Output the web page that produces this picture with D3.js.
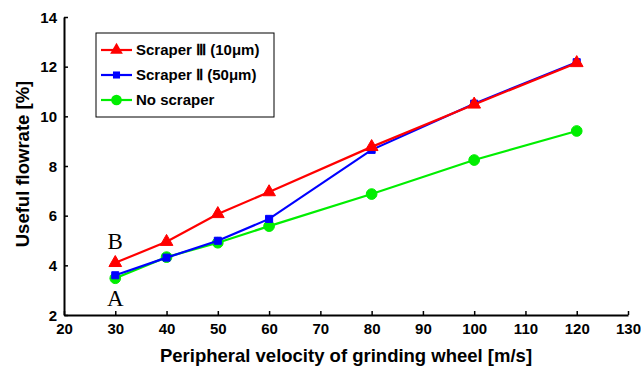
<!DOCTYPE html>
<html>
<head>
<meta charset="utf-8">
<script src="https://cdn.jsdelivr.net/npm/d3@7"></script>
<style>
  body { margin: 0; background: #fff; }
  text { font-family: "Liberation Sans", Arial, sans-serif; font-weight: bold; }
</style>
</head>
<body>
<div id="chart"></div>
<script>
// data
var speeds = [30, 40, 50, 60, 80, 100, 120];
var scraper3 = [4.1, 4.95, 6.07, 6.95, 8.77, 10.48, 12.15];
var scraper2 = [3.6, 4.31, 4.99, 5.87, 8.65, 10.51, 12.18];
var noScraper = [3.48, 4.33, 4.91, 5.58, 6.87, 8.24, 9.41];
var xTicks = [20, 30, 40, 50, 60, 70, 80, 90, 100, 110, 120, 130];
var yTicks = [2, 4, 6, 8, 10, 12, 14];

var series = [
  {name: "Scraper \u2162 (10\u03bcm)", values: scraper3, color: "#ff0000", marker: "triangle"},
  {name: "Scraper \u2161 (50\u03bcm)", values: scraper2, color: "#0000ff", marker: "square"},
  {name: "No scraper", values: noScraper, color: "#00ee00", marker: "circle"}
];

var width = 641, height = 368;
var margin = {top: 17, right: 13, bottom: 53, left: 64};

var svg = d3.select("#chart").append("svg")
    .attr("width", width)
    .attr("height", height);

var x = d3.scaleLinear()
    .domain([20, 130])
    .range([margin.left, width - margin.right]);

var y = d3.scaleLinear()
    .domain([2, 14])
    .range([height - margin.bottom, margin.top]);

var xAxis = d3.axisBottom(x)
    .tickValues(xTicks)
    .tickSizeInner(-4)
    .tickSizeOuter(0)
    .tickPadding(8);

var yAxis = d3.axisLeft(y)
    .tickValues(yTicks)
    .tickSizeInner(-4)
    .tickSizeOuter(0)
    .tickPadding(7);

var gx = svg.append("g")
    .attr("transform", "translate(0," + y(2) + ")")
    .call(xAxis);
var gy = svg.append("g")
    .attr("transform", "translate(" + x(20) + ",0)")
    .call(yAxis);

[gx, gy].forEach(function(g) {
  g.select(".domain").attr("stroke", "#000").attr("stroke-width", 2);
  g.selectAll(".tick line").attr("stroke", "#000").attr("stroke-width", 1.5);
  g.selectAll(".tick text")
      .attr("fill", "#000")
      .style("font-size", "15px")
      .style("font-family", "'Liberation Sans', Arial, sans-serif")
      .style("font-weight", "bold");
});
gy.selectAll(".tick text").attr("dy", "0.35em");

// axis titles
svg.append("text")
    .attr("x", x(75))
    .attr("y", 362)
    .attr("text-anchor", "middle")
    .style("font-size", "18.5px")
    .text("Peripheral velocity of grinding wheel [m/s]");

svg.append("text")
    .attr("transform", "translate(29," + 164 + ") rotate(-90)")
    .attr("text-anchor", "middle")
    .style("font-size", "18.5px")
    .text("Useful flowrate [%]");

var line = d3.line()
    .x(function(d, i) { return x(speeds[i]); })
    .y(function(d) { return y(d); });

var symbolTypes = {
  triangle: d3.symbol().type(d3.symbolTriangle).size(70),
  square: d3.symbol().type(d3.symbolSquare).size(50),
  circle: d3.symbol().type(d3.symbolCircle).size(90)
};

// draw from back to front like the figure: green, blue, red
var order = [series[2], series[1], series[0]];
order.forEach(function(s) {
  svg.append("path")
      .datum(s.values)
      .attr("fill", "none")
      .attr("stroke", s.color)
      .attr("stroke-width", 2.2)
      .attr("d", line);
  svg.selectAll(null)
      .data(s.values)
      .enter().append("path")
      .attr("d", symbolTypes[s.marker])
      .attr("transform", function(d, i) {
        return "translate(" + x(speeds[i]) + "," + y(d) + ")";
      })
      .attr("fill", s.color)
      .attr("stroke", s.color);
});

// A / B annotations
svg.append("text")
    .attr("x", x(30))
    .attr("y", 249)
    .attr("text-anchor", "middle")
    .style("font-family", "'Liberation Serif', 'Times New Roman', serif")
    .style("font-weight", "normal")
    .style("font-size", "23px")
    .text("B");
svg.append("text")
    .attr("x", x(30))
    .attr("y", 306)
    .attr("text-anchor", "middle")
    .style("font-family", "'Liberation Serif', 'Times New Roman', serif")
    .style("font-weight", "normal")
    .style("font-size", "23px")
    .text("A");

// legend
var legend = svg.append("g").attr("transform", "translate(96,33)");
legend.append("rect")
    .attr("width", 178)
    .attr("height", 84)
    .attr("fill", "#fff")
    .attr("stroke", "#000")
    .attr("stroke-width", 1);

series.forEach(function(s, i) {
  var row = legend.append("g").attr("transform", "translate(0," + (17 + i * 25) + ")");
  row.append("line")
      .attr("x1", 5).attr("x2", 36)
      .attr("stroke", s.color)
      .attr("stroke-width", 2.2);
  row.append("path")
      .attr("d", symbolTypes[s.marker])
      .attr("transform", "translate(20.5,0)")
      .attr("fill", s.color);
  row.append("text")
      .attr("x", 40)
      .attr("dy", "0.35em")
      .style("font-size", "15px")
      .text(s.name);
});
</script>
</body>
</html>
